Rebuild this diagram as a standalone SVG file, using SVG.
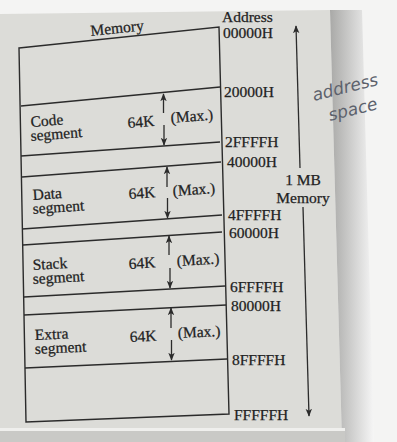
<svg xmlns="http://www.w3.org/2000/svg" width="397" height="442" viewBox="0 0 397 442">
<defs>
<style>
.t{font-family:"Liberation Serif","Times New Roman",serif;font-size:15.5px;fill:#222;stroke:#222;stroke-width:0.25}
.ln{stroke:#2b2b2b;stroke-width:1.4;fill:none}
.ar{stroke:#2b2b2b;stroke-width:1.3;fill:none}
.hw{font-family:"DejaVu Sans",sans-serif;font-style:italic;font-size:17px;fill:#5c616c}
</style>
<marker id="ah" viewBox="0 0 10 10" refX="9" refY="5" markerWidth="8" markerHeight="8" orient="auto-start-reverse" markerUnits="userSpaceOnUse">
<path d="M0,1 L10,5 L0,9 L2.5,5 Z" fill="#2b2b2b"/>
</marker>
<linearGradient id="sh" x1="0" x2="1" y1="0" y2="0">
<stop offset="0" stop-color="#a9a9a7"/>
<stop offset="1" stop-color="#f6f6f6"/>
</linearGradient>
</defs>
<rect width="397" height="442" fill="#f4f4f3"/>
<polygon points="0,14 330,10 342,442 0,442" fill="#dcdcd8"/>
<polygon points="330,10 362,10 374,442 342,442" fill="url(#sh)"/>
<rect x="0" y="428" width="345" height="3" fill="#efefed"/>
<rect x="0" y="431" width="345" height="11" fill="#c9c9c6"/>

<g id="memory-title">
<text class="t" x="91" y="36" transform="rotate(-6 91 36)">Memory</text>
</g>

<g id="frame">
<polygon class="ln" points="19,48 219,27 229,414 26,422"/>
</g>

<g id="code-segment">
<line class="ln" x1="21" y1="106" x2="220" y2="87"/>
<line class="ln" x1="21" y1="156" x2="220" y2="142"/>
<text class="t" x="31" y="127" transform="rotate(-4.5 31 127)">Code</text>
<text class="t" x="31" y="141" transform="rotate(-4.5 31 141)">segment</text>
<text class="t" x="128" y="128" transform="rotate(-4.5 128 128)">64K</text>
<text class="t" x="171" y="123" transform="rotate(-4.5 171 123)">(Max.)</text>
</g>

<g id="data-segment">
<line class="ln" x1="22" y1="177" x2="221" y2="162"/>
<line class="ln" x1="22" y1="229" x2="222" y2="215"/>
<text class="t" x="33" y="200" transform="rotate(-4 33 200)">Data</text>
<text class="t" x="33" y="214" transform="rotate(-4 33 214)">segment</text>
<text class="t" x="129" y="199" transform="rotate(-4 129 199)">64K</text>
<text class="t" x="173" y="196" transform="rotate(-4 173 196)">(Max.)</text>
</g>

<g id="stack-segment">
<line class="ln" x1="23" y1="245" x2="222" y2="232"/>
<line class="ln" x1="24" y1="297" x2="225" y2="286"/>
<text class="t" x="33" y="270" transform="rotate(-3.3 33 270)">Stack</text>
<text class="t" x="33" y="284" transform="rotate(-3.3 33 284)">segment</text>
<text class="t" x="129" y="269" transform="rotate(-3.3 129 269)">64K</text>
<text class="t" x="177" y="266" transform="rotate(-3.3 177 266)">(Max.)</text>
</g>

<g id="extra-segment">
<line class="ln" x1="24" y1="315" x2="226" y2="305"/>
<line class="ln" x1="25" y1="368" x2="227" y2="359"/>
<text class="t" x="35" y="340" transform="rotate(-2.6 35 340)">Extra</text>
<text class="t" x="35" y="354" transform="rotate(-2.6 35 354)">segment</text>
<text class="t" x="130" y="342" transform="rotate(-2.6 130 342)">64K</text>
<text class="t" x="178" y="338" transform="rotate(-2.6 178 338)">(Max.)</text>
</g>

<g id="addresses">
<text class="t" x="222" y="22">Address</text>
<text class="t" x="223" y="38">00000H</text>
<text class="t" x="224" y="97">20000H</text>
<text class="t" x="225" y="147">2FFFFH</text>
<text class="t" x="227" y="167">40000H</text>
<text class="t" x="228" y="220">4FFFFH</text>
<text class="t" x="229" y="238">60000H</text>
<text class="t" x="230" y="292">6FFFFH</text>
<text class="t" x="231" y="311">80000H</text>
<text class="t" x="232" y="365">8FFFFH</text>
<text class="t" x="234" y="420">FFFFFH</text>
</g>

<g id="size-label">
<text class="t" x="303" y="185" text-anchor="middle">1 MB</text>
<text class="t" x="303" y="203" text-anchor="middle">Memory</text>
</g>

<g id="handwriting">
<text class="hw" x="314" y="101" transform="rotate(-14 314 101)">address</text>
<text class="hw" x="330" y="121" transform="rotate(-14 330 121)">space</text>
</g>

<g id="connectors">
<line class="ar" x1="163.5" y1="113" x2="163.5" y2="94" marker-end="url(#ah)"/>
<line class="ar" x1="164" y1="125" x2="164" y2="145" marker-end="url(#ah)"/>
<line class="ar" x1="167" y1="187" x2="167" y2="167" marker-end="url(#ah)"/>
<line class="ar" x1="167.5" y1="198" x2="167.5" y2="218" marker-end="url(#ah)"/>
<line class="ar" x1="169" y1="255" x2="169" y2="236" marker-end="url(#ah)"/>
<line class="ar" x1="170" y1="268" x2="170" y2="288" marker-end="url(#ah)"/>
<line class="ar" x1="171" y1="328" x2="171" y2="308" marker-end="url(#ah)"/>
<line class="ar" x1="171.5" y1="340" x2="171.5" y2="360" marker-end="url(#ah)"/>
<line class="ar" x1="300" y1="168" x2="296" y2="26" marker-end="url(#ah)"/>
<line class="ar" x1="303" y1="207" x2="309" y2="416" marker-end="url(#ah)"/>
</g>
</svg>
